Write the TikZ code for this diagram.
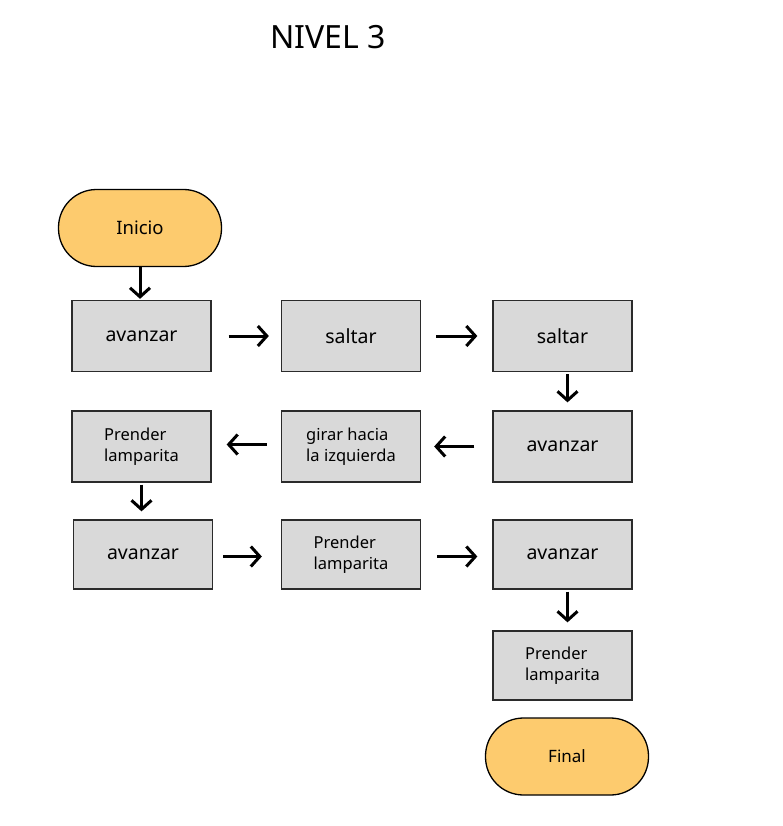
\documentclass[tikz,border=0pt]{standalone}
\usepackage{fontspec}
\setmainfont{Noto Sans}
\usetikzlibrary{arrows.meta}
\definecolor{boxfill}{HTML}{D9D9D9}
\definecolor{termfill}{HTML}{FDCB6E}
\definecolor{edgecol}{HTML}{2B2B2B}
\begin{document}
\begin{tikzpicture}[x=1pt,y=-1pt,
  stepbox/.style={draw=edgecol,line width=1.3pt,fill=boxfill,rectangle,
    minimum width=139pt,minimum height=71pt,inner sep=0pt,align=left,
    font=\fontsize{19.5}{22}\selectfont},
  twoline/.style={font=\fontsize{16.5}{20.5}\selectfont},
  terminal/.style={draw=black,line width=1.3pt,fill=termfill,rounded corners=38pt,
    minimum width=163pt,minimum height=77pt,inner sep=0pt},
  flow/.style={line width=3pt,black,-{Straight Barb[length=9pt,width=20pt,line width=3pt]}}
]
\useasboundingbox (0,0) rectangle (782,826);
\fill[white] (0,0) rectangle (782,826);

\node[font=\fontsize{32}{36}\selectfont] (title) at (328,37) {NIVEL 3};

\node[terminal,font=\fontsize{18.5}{22}\selectfont] (inicio) at (140,228) {Inicio};

\node[stepbox] (a1) at (141.5,336) {avanzar};
\node[stepbox] (s1) at (351,336) {saltar};
\node[stepbox] (s2) at (562.5,336) {saltar};

\node[stepbox,twoline] (p1) at (141.5,446.5) {Prender\\lamparita};
\node[stepbox,twoline] (g1) at (351,446.5) {girar hacia\\la izquierda};
\node[stepbox] (a2) at (562.5,446.5) {avanzar};

\node[stepbox,minimum height=69pt] (a3) at (143,554.5) {avanzar};
\node[stepbox,twoline,minimum height=69pt] (p2) at (351,554.5) {Prender\\lamparita};
\node[stepbox,minimum height=69pt] (a4) at (562.5,554.5) {avanzar};

\node[stepbox,twoline,minimum height=69pt] (p3) at (562.5,665.5) {Prender\\lamparita};

\node[terminal,font=\fontsize{17}{20}\selectfont] (final) at (567,756.5) {Final};

% connectors
\draw[flow,shorten >=1pt] (inicio.south) -- (inicio.south |- a1.north);
\draw[flow,shorten <=17pt,shorten >=12pt] (a1.east) -- (s1.west);
\draw[flow,shorten <=15pt,shorten >=15pt] (s1.east) -- (s2.west);
\draw[flow,shorten <=2pt,shorten >=8pt] ([xshift=5pt]s2.south) -- ([xshift=5pt]a2.north);
\draw[flow,shorten <=18pt,shorten >=13pt] (a2.west) -- (g1.east);
\draw[flow,shorten <=14pt,shorten >=15pt] ([yshift=2pt]g1.west) -- ([yshift=2pt]p1.east);
\draw[flow,shorten <=2pt,shorten >=8pt] (p1.south) -- (p1.south |- a3.north);
\draw[flow,shorten <=10pt,shorten >=19pt] ([yshift=-2pt]a3.east) -- ([yshift=-2pt]p2.west);
\draw[flow,shorten <=16pt,shorten >=15pt] ([yshift=-2pt]p2.east) -- ([yshift=-2pt]a4.west);
\draw[flow,shorten <=2pt,shorten >=8pt] ([xshift=5pt]a4.south) -- ([xshift=5pt]p3.north);
\end{tikzpicture}
\end{document}
